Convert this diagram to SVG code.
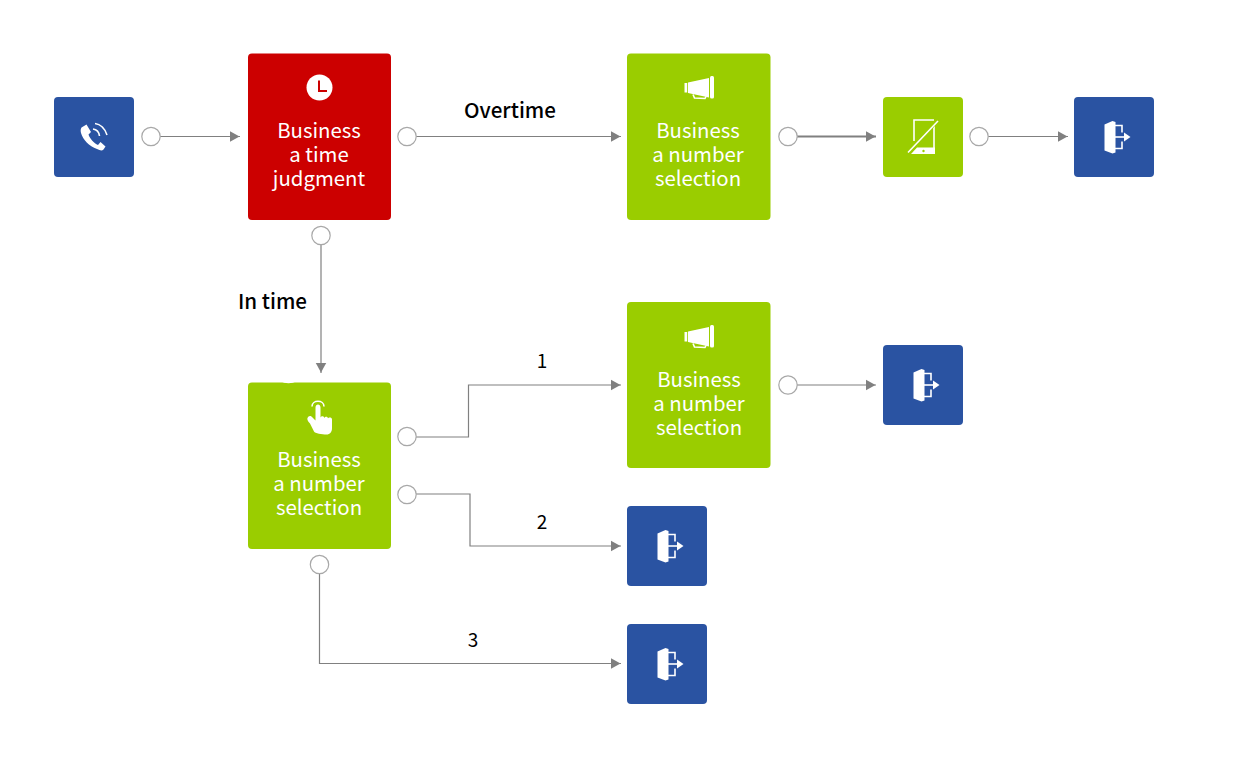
<svg xmlns="http://www.w3.org/2000/svg" xmlns:xlink="http://www.w3.org/1999/xlink" width="1238" height="757" viewBox="0 0 1238 757">
<style>
.blue{fill:#2a53a2}
.green{fill:#9acd00}
.red{fill:#cc0000}
.t{font-family:"Noto Sans CJK SC","Noto Sans",sans-serif;font-size:20.4px;fill:#fff;text-anchor:middle}
.l{font-family:"Noto Sans CJK SC","Noto Sans",sans-serif;font-size:19px;fill:#000;text-anchor:middle}
.b{font-weight:500;font-size:20.6px}
.c{fill:none;stroke:#808080;stroke-width:1.2}
.p{fill:#fff;stroke:#a8a8a8;stroke-width:1.2}
.w{fill:#fff}
.ws{fill:none;stroke:#fff;stroke-width:1.6}
</style>
<defs>
<marker id="a" markerUnits="userSpaceOnUse" markerWidth="11" markerHeight="12" refX="10.500" refY="6" orient="auto"><path d="M0 .5L10 6L0 11.500Z" fill="#808080"/></marker>
<g id="exit">
<path class="w" d="M30.500 27.500L38.500 24L41.500 25V55.500L38.500 56.500L30.500 53.500Z"/>
<path class="ws" d="M41 28.500H48V35.500M48 44.500V51.500H41" stroke-width="2"/>
<path class="ws" d="M41 40H51" stroke-width="2"/>
<path class="w" d="M50 35.500L56.500 40L50 44.500Z"/>
</g>
<g id="horn">
<path class="w" d="M-25.500 -7H-22.800V2.500H-25.500ZM-22 -7.500L-1 -12V7.500L-22 3Z"/>
<rect class="w" x="0" y="-14" width="4" height="22.500" rx="1.500"/>
<path class="ws" d="M-17 4.500L-15.500 8L-5 8.500L-4 6.500" stroke-width="1.300"/>
</g>
</defs>
<g id="connectors">
<path class="c" marker-end="url(#a)" d="M160 136.500H240"/>
<path class="c" marker-end="url(#a)" d="M416 136.500H621"/>
<path class="c" style="stroke-width:2" marker-end="url(#a)" d="M797 136.500H876"/>
<path class="c" marker-end="url(#a)" d="M988 136.500H1068"/>
<path class="c" marker-end="url(#a)" d="M321 245V373"/>
<path class="c" marker-end="url(#a)" d="M416 437H468.500V385H621"/>
<path class="c" marker-end="url(#a)" d="M797 385H876"/>
<path class="c" marker-end="url(#a)" d="M416 494H470V546H621"/>
<path class="c" marker-end="url(#a)" d="M319.500 574V663.500H621"/>
</g>
<g id="ports">
<circle class="p" cx="151" cy="136.500" r="9.200"/>
<circle class="p" cx="407" cy="136.500" r="9.200"/>
<circle class="p" cx="321" cy="235.500" r="9.200"/>
<circle class="p" cx="788" cy="136.500" r="9.200"/>
<circle class="p" cx="979" cy="136.500" r="9.200"/>
<circle class="p" cx="407" cy="436.500" r="9.200"/>
<circle class="p" cx="407" cy="494.500" r="9.200"/>
<circle class="p" cx="319.500" cy="564.500" r="9.200"/>
<circle class="p" cx="788" cy="385" r="9.200"/>
</g>
<g id="start">
<rect class="blue" x="54" y="97" width="80" height="80" rx="4"/>
<path class="w" d="M81.500 127.500L86.500 124.500L91 132L88.500 134.500C90 139 94 143 98 145L100.500 142L105.500 146.500L103.500 149.500C102 151 100 150.500 97 149C89 146 83 140 81 133C80.500 131 80.500 129 81.500 127.500Z"/>
<path class="ws" d="M93 129C96.500 129.500 99 132 99.500 136M95 123.500C100.500 124 105 129 107 135" stroke-width="1.800"/>
</g>
<g id="time-judgment">
<rect class="red" x="248" y="53.500" width="143" height="166.500" rx="4"/>
<circle class="w" cx="319.500" cy="87.500" r="13"/>
<path d="M319 80.500V91H327" fill="none" stroke="#cc0000" stroke-width="2"/>
<text class="t" x="319" y="138">Business</text>
<text class="t" x="319" y="162">a time</text>
<text class="t" x="319" y="186">judgment</text>
</g>
<g id="overtime-selection">
<rect class="green" x="627" y="53.500" width="143.500" height="166.500" rx="4"/>
<use xlink:href="#horn" x="710" y="90"/>
<text class="t" x="698" y="138">Business</text>
<text class="t" x="698" y="162">a number</text>
<text class="t" x="698" y="186">selection</text>
</g>
<g id="no-phone">
<rect class="green" x="883" y="97" width="80" height="80" rx="4"/>
<path class="ws" d="M914 141V120H934M934 125V153" stroke-width="1.800"/>
<path class="w" d="M917 147.500H935V154H911Z"/>
<circle cx="923.500" cy="151" r="1.200" fill="#9acd00"/>
<path d="M909 151L937 121" fill="none" stroke="#9acd00" stroke-width="4"/>
<path class="ws" d="M908 152.500L938 121" stroke-width="1.800"/>
</g>
<g id="exit-1" transform="translate(1074 97)">
<rect class="blue" width="80" height="80" rx="4"/>
<use xlink:href="#exit"/>
</g>
<g id="number-selection">
<rect class="green" x="248" y="382.500" width="143" height="166.500" rx="4"/>
<path class="w" d="M281 381H296C293 384 284 384 281 381Z"/>
<path class="w" d="M308 417C306.500 419 307.500 421 310 423.500L314 431.500C315 433.500 322 434.500 326.500 434.500C330 434.500 332 432 332 428V419.500C332 417 328.500 417 328 418.500C328 416.500 325 416 324.500 418C324 416 321.500 415.500 320.500 417.500V407.500C320.500 403.500 315.500 403.500 315.500 407.500V420.500L312.500 417.500C311 415.500 309.500 415.500 308 417Z"/>
<path class="ws" d="M312 406.500C312 399.500 324 399.500 324 406.500" stroke-width="1.500"/>
<text class="t" x="319" y="467">Business</text>
<text class="t" x="319" y="491">a number</text>
<text class="t" x="319" y="515">selection</text>
</g>
<g id="in-time-selection">
<rect class="green" x="627" y="302" width="143.500" height="166" rx="4"/>
<use xlink:href="#horn" x="710" y="339"/>
<text class="t" x="699" y="386.500">Business</text>
<text class="t" x="699" y="410.500">a number</text>
<text class="t" x="699" y="435">selection</text>
</g>
<g id="exit-2" transform="translate(883 345)">
<rect class="blue" width="80" height="80" rx="4"/>
<use xlink:href="#exit"/>
</g>
<g id="exit-3" transform="translate(627 506)">
<rect class="blue" width="80" height="80" rx="4"/>
<use xlink:href="#exit"/>
</g>
<g id="exit-4" transform="translate(627 624)">
<rect class="blue" width="80" height="80" rx="4"/>
<use xlink:href="#exit"/>
</g>
<g id="labels">
<text class="l b" x="510" y="117.500">Overtime</text>
<text class="l b" x="272.500" y="308.500">In time</text>
<text class="l" x="542" y="368">1</text>
<text class="l" x="542" y="529">2</text>
<text class="l" x="473" y="647">3</text>
</g>
</svg>
